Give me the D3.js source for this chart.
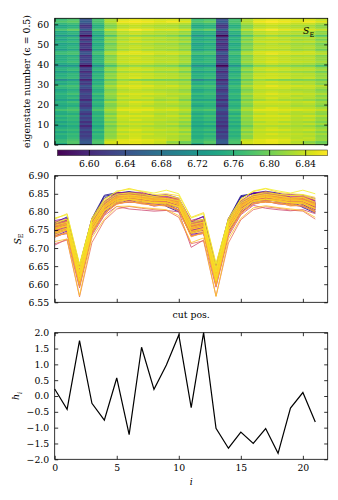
<!DOCTYPE html>
<html>
<head>
<meta charset="utf-8">
<script src="https://cdn.jsdelivr.net/npm/d3@7"></script>
<style>
  body { margin: 0; background: #fff; }
</style>
</head>
<body>
<figure id="chart" style="margin:0"></figure>
<script>
// cut positions along the chain
const cutPositions = [0, 1, 2, 3, 4, 5, 6, 7, 8, 9, 10, 11, 12, 13, 14, 15, 16, 17, 18, 19, 20, 21]

// entanglement entropy S_E, one row per eigenstate (0..62), one value per cut position
const entropy = [
  [6.742,6.781,6.645,6.778,6.843,6.850,6.855,6.846,6.838,6.822,6.805,6.744,6.780,6.643,6.776,6.842,6.851,6.853,6.845,6.835,6.820,6.802],
  [6.770,6.786,6.650,6.782,6.846,6.853,6.852,6.848,6.840,6.815,6.800,6.772,6.788,6.652,6.781,6.845,6.850,6.855,6.848,6.832,6.812,6.797],
  [6.766,6.779,6.642,6.779,6.838,6.852,6.856,6.851,6.846,6.838,6.825,6.770,6.779,6.646,6.777,6.840,6.852,6.857,6.852,6.840,6.835,6.820],
  [6.752,6.768,6.630,6.762,6.818,6.837,6.846,6.838,6.836,6.830,6.822,6.755,6.768,6.628,6.766,6.815,6.840,6.842,6.841,6.832,6.836,6.818],
  [6.748,6.762,6.618,6.760,6.812,6.833,6.842,6.834,6.832,6.828,6.818,6.750,6.758,6.622,6.756,6.810,6.837,6.838,6.835,6.832,6.828,6.812],
  [6.762,6.770,6.628,6.768,6.816,6.843,6.845,6.844,6.835,6.838,6.830,6.760,6.772,6.633,6.764,6.822,6.840,6.848,6.841,6.838,6.835,6.825],
  [6.741,6.756,6.615,6.750,6.807,6.829,6.838,6.830,6.828,6.824,6.812,6.748,6.752,6.611,6.754,6.805,6.833,6.834,6.830,6.828,6.823,6.808],
  [6.765,6.770,6.636,6.771,6.818,6.845,6.850,6.842,6.840,6.836,6.832,6.763,6.774,6.632,6.770,6.824,6.842,6.849,6.846,6.836,6.841,6.827],
  [6.752,6.758,6.622,6.756,6.811,6.836,6.839,6.837,6.829,6.832,6.821,6.754,6.761,6.619,6.759,6.813,6.834,6.841,6.834,6.831,6.831,6.817],
  [6.733,6.747,6.600,6.742,6.799,6.823,6.832,6.824,6.822,6.818,6.805,6.738,6.743,6.604,6.746,6.797,6.827,6.828,6.825,6.822,6.817,6.800],
  [6.758,6.764,6.629,6.762,6.817,6.841,6.842,6.842,6.832,6.836,6.823,6.756,6.768,6.625,6.765,6.815,6.841,6.842,6.842,6.832,6.836,6.822],
  [6.739,6.753,6.607,6.752,6.801,6.831,6.832,6.831,6.826,6.822,6.811,6.744,6.749,6.611,6.748,6.807,6.827,6.836,6.828,6.826,6.821,6.806],
  [6.761,6.767,6.633,6.764,6.820,6.839,6.848,6.840,6.838,6.834,6.830,6.760,6.771,6.629,6.768,6.818,6.843,6.844,6.844,6.834,6.839,6.821],
  [6.749,6.761,6.621,6.757,6.809,6.837,6.838,6.835,6.831,6.829,6.819,6.751,6.762,6.618,6.757,6.811,6.836,6.839,6.837,6.829,6.829,6.814],
  [6.767,6.773,6.640,6.770,6.825,6.847,6.848,6.848,6.838,6.842,6.835,6.766,6.777,6.636,6.774,6.823,6.847,6.848,6.848,6.838,6.843,6.830],
  [6.746,6.752,6.611,6.754,6.803,6.833,6.834,6.834,6.824,6.828,6.813,6.744,6.756,6.615,6.750,6.809,6.829,6.838,6.830,6.828,6.824,6.812],
  [6.751,6.765,6.626,6.759,6.815,6.835,6.844,6.836,6.834,6.830,6.825,6.757,6.761,6.622,6.763,6.813,6.839,6.840,6.840,6.830,6.834,6.816],
  [6.776,6.782,6.650,6.782,6.828,6.853,6.854,6.854,6.844,6.848,6.838,6.776,6.786,6.646,6.782,6.830,6.853,6.854,6.850,6.848,6.846,6.837],
  [6.757,6.771,6.629,6.768,6.816,6.843,6.844,6.844,6.834,6.838,6.826,6.764,6.767,6.633,6.764,6.822,6.839,6.848,6.840,6.838,6.835,6.825],
  [6.743,6.749,6.611,6.748,6.805,6.827,6.836,6.828,6.826,6.822,6.815,6.740,6.753,6.607,6.752,6.803,6.831,6.832,6.832,6.822,6.825,6.806],
  [6.751,6.759,6.619,6.759,6.808,6.834,6.841,6.837,6.828,6.831,6.822,6.753,6.759,6.621,6.760,6.810,6.836,6.839,6.838,6.829,6.832,6.816],
  [6.760,6.774,6.632,6.767,6.822,6.841,6.850,6.846,6.836,6.840,6.828,6.767,6.770,6.636,6.767,6.820,6.845,6.846,6.846,6.836,6.841,6.823],
  [6.734,6.740,6.597,6.743,6.793,6.825,6.826,6.826,6.816,6.820,6.803,6.735,6.740,6.601,6.739,6.799,6.821,6.830,6.822,6.820,6.815,6.802],
  [6.754,6.768,6.625,6.766,6.813,6.841,6.842,6.842,6.832,6.836,6.823,6.760,6.764,6.629,6.762,6.819,6.837,6.846,6.838,6.836,6.832,6.822],
  [6.749,6.755,6.618,6.753,6.810,6.831,6.840,6.832,6.830,6.826,6.820,6.747,6.759,6.614,6.757,6.808,6.835,6.836,6.836,6.826,6.830,6.811],
  [6.763,6.777,6.636,6.774,6.821,6.847,6.848,6.848,6.842,6.838,6.835,6.770,6.773,6.640,6.770,6.827,6.843,6.852,6.844,6.842,6.839,6.830],
  [6.750,6.762,6.620,6.756,6.812,6.834,6.838,6.836,6.832,6.828,6.820,6.750,6.762,6.620,6.756,6.812,6.834,6.840,6.834,6.832,6.828,6.815],
  [6.738,6.752,6.608,6.749,6.804,6.828,6.835,6.829,6.825,6.823,6.814,6.740,6.752,6.608,6.751,6.804,6.830,6.833,6.831,6.823,6.824,6.807],
  [6.760,6.768,6.632,6.765,6.819,6.840,6.847,6.841,6.837,6.835,6.829,6.761,6.770,6.630,6.767,6.819,6.842,6.845,6.843,6.835,6.838,6.822],
  [6.770,6.776,6.643,6.773,6.827,6.849,6.850,6.850,6.840,6.844,6.833,6.773,6.776,6.643,6.773,6.829,6.845,6.854,6.846,6.844,6.841,6.832],
  [6.743,6.755,6.612,6.751,6.806,6.830,6.837,6.831,6.827,6.825,6.816,6.745,6.755,6.612,6.751,6.806,6.832,6.835,6.833,6.825,6.827,6.809],
  [6.754,6.762,6.625,6.760,6.814,6.836,6.843,6.837,6.833,6.831,6.824,6.756,6.762,6.625,6.760,6.816,6.836,6.843,6.837,6.833,6.831,6.819],
  [6.708,6.725,6.590,6.735,6.790,6.815,6.808,6.805,6.802,6.804,6.800,6.702,6.722,6.592,6.733,6.792,6.818,6.810,6.806,6.803,6.806,6.795],
  [6.764,6.771,6.635,6.770,6.821,6.842,6.849,6.843,6.839,6.837,6.831,6.764,6.773,6.633,6.771,6.821,6.844,6.847,6.845,6.837,6.840,6.824],
  [6.749,6.761,6.617,6.758,6.810,6.836,6.840,6.836,6.830,6.830,6.820,6.752,6.760,6.621,6.758,6.812,6.835,6.840,6.836,6.830,6.830,6.815],
  [6.757,6.765,6.628,6.765,6.816,6.840,6.843,6.841,6.835,6.833,6.826,6.759,6.765,6.626,6.763,6.818,6.840,6.843,6.841,6.835,6.833,6.821],
  [6.730,6.743,6.600,6.740,6.795,6.822,6.828,6.823,6.818,6.817,6.804,6.733,6.743,6.600,6.741,6.796,6.823,6.828,6.824,6.818,6.816,6.800],
  [6.758,6.770,6.630,6.767,6.817,6.842,6.845,6.843,6.835,6.837,6.827,6.763,6.768,6.632,6.765,6.821,6.840,6.847,6.841,6.837,6.836,6.824],
  [6.752,6.759,6.621,6.757,6.811,6.835,6.841,6.835,6.831,6.829,6.821,6.752,6.761,6.619,6.759,6.811,6.836,6.839,6.837,6.829,6.831,6.814],
  [6.712,6.722,6.565,6.715,6.776,6.808,6.815,6.810,6.806,6.804,6.785,6.712,6.720,6.567,6.714,6.778,6.806,6.814,6.810,6.805,6.802,6.780],
  [6.745,6.753,6.614,6.753,6.804,6.832,6.835,6.833,6.825,6.827,6.814,6.747,6.753,6.614,6.753,6.808,6.830,6.837,6.831,6.827,6.825,6.811],
  [6.761,6.773,6.635,6.768,6.821,6.842,6.847,6.845,6.837,6.839,6.829,6.766,6.771,6.635,6.768,6.823,6.842,6.849,6.843,6.839,6.838,6.826],
  [6.750,6.760,6.620,6.759,6.810,6.835,6.839,6.836,6.830,6.830,6.821,6.751,6.760,6.620,6.759,6.812,6.835,6.840,6.836,6.830,6.830,6.815],
  [6.756,6.767,6.626,6.764,6.814,6.840,6.844,6.839,6.835,6.834,6.824,6.758,6.767,6.628,6.764,6.816,6.839,6.845,6.839,6.835,6.835,6.819],
  [6.742,6.750,6.610,6.751,6.802,6.830,6.833,6.831,6.823,6.825,6.812,6.743,6.750,6.610,6.751,6.804,6.830,6.833,6.831,6.823,6.824,6.807],
  [6.773,6.779,6.647,6.776,6.830,6.851,6.852,6.852,6.842,6.846,6.836,6.776,6.779,6.647,6.776,6.832,6.847,6.856,6.848,6.846,6.843,6.835],
  [6.766,6.774,6.637,6.773,6.824,6.844,6.851,6.845,6.841,6.839,6.834,6.767,6.776,6.637,6.773,6.824,6.846,6.849,6.847,6.839,6.842,6.827],
  [6.730,6.744,6.593,6.739,6.797,6.821,6.830,6.822,6.820,6.816,6.807,6.731,6.744,6.595,6.739,6.795,6.825,6.826,6.826,6.816,6.819,6.798],
  [6.752,6.764,6.623,6.762,6.812,6.838,6.841,6.839,6.831,6.833,6.822,6.754,6.764,6.623,6.762,6.814,6.838,6.841,6.839,6.831,6.833,6.817],
  [6.745,6.755,6.612,6.751,6.806,6.830,6.837,6.831,6.827,6.825,6.816,6.744,6.755,6.612,6.751,6.806,6.832,6.835,6.833,6.825,6.827,6.809],
  [6.734,6.741,6.598,6.742,6.794,6.824,6.827,6.825,6.817,6.819,6.804,6.732,6.741,6.598,6.742,6.796,6.822,6.829,6.823,6.819,6.816,6.801],
  [6.760,6.768,6.632,6.766,6.818,6.840,6.847,6.841,6.837,6.835,6.829,6.761,6.770,6.630,6.767,6.819,6.842,6.845,6.843,6.835,6.838,6.822],
  [6.736,6.750,6.600,6.745,6.802,6.825,6.834,6.826,6.824,6.820,6.812,6.741,6.746,6.602,6.749,6.800,6.829,6.830,6.830,6.820,6.823,6.803],
  [6.755,6.767,6.627,6.763,6.816,6.838,6.845,6.839,6.835,6.833,6.826,6.757,6.767,6.627,6.763,6.818,6.838,6.845,6.839,6.835,6.833,6.821],
  [6.718,6.725,6.568,6.729,6.780,6.815,6.816,6.812,6.809,6.806,6.790,6.715,6.728,6.566,6.725,6.782,6.811,6.817,6.812,6.808,6.804,6.785],
  [6.754,6.762,6.625,6.760,6.814,6.836,6.843,6.837,6.833,6.831,6.824,6.756,6.762,6.625,6.760,6.816,6.836,6.843,6.837,6.833,6.831,6.819],
  [6.742,6.756,6.613,6.752,6.806,6.831,6.836,6.832,6.826,6.826,6.815,6.746,6.754,6.613,6.752,6.807,6.831,6.836,6.832,6.826,6.826,6.810],
  [6.780,6.795,6.655,6.783,6.836,6.855,6.865,6.856,6.848,6.850,6.845,6.785,6.798,6.657,6.782,6.836,6.856,6.864,6.854,6.850,6.848,6.840],
  [6.751,6.761,6.620,6.758,6.811,6.834,6.840,6.836,6.830,6.831,6.819,6.752,6.759,6.620,6.758,6.812,6.835,6.841,6.835,6.830,6.830,6.816],
  [6.740,6.752,6.608,6.749,6.804,6.828,6.835,6.829,6.825,6.823,6.814,6.741,6.752,6.608,6.749,6.806,6.828,6.835,6.829,6.825,6.822,6.809],
  [6.763,6.771,6.635,6.768,6.819,6.844,6.847,6.843,6.839,6.837,6.831,6.764,6.772,6.634,6.769,6.823,6.842,6.848,6.844,6.838,6.840,6.826],
  [6.783,6.792,6.654,6.780,6.832,6.858,6.862,6.858,6.852,6.860,6.850,6.783,6.795,6.655,6.780,6.834,6.858,6.865,6.858,6.852,6.860,6.850],
  [6.768,6.780,6.645,6.776,6.826,6.848,6.853,6.848,6.843,6.846,6.838,6.770,6.779,6.643,6.774,6.828,6.847,6.853,6.849,6.845,6.847,6.835]
]

// local fields h_i
const fields = [0.22, -0.42, 1.75, -0.23, -0.76, 0.57, -1.22, 1.54, 0.21, 0.98, 1.93, -0.37, 2.0, -1.02, -1.65, -1.14, -1.50, -1.03, -1.81, -0.38, 0.11, -0.82]

// ticks
const xTicks = [0, 5, 10, 15, 20]
const stateTicks = [0, 10, 20, 30, 40, 50, 60]
const colorTicks = [6.60, 6.64, 6.68, 6.72, 6.76, 6.80, 6.84]
const entropyTicks = [6.55, 6.60, 6.65, 6.70, 6.75, 6.80, 6.85, 6.90]
const fieldTicks = [-2.0, -1.5, -1.0, -0.5, 0.0, 0.5, 1.0, 1.5, 2.0]

const width = 338
const height = 500
const left = 54.7
const right = 327.7
const tick = 3.5
const serif = "DejaVu Serif"
const fontSize = 9.3

const svg = d3.select("#chart").append("svg")
  .attr("width", width)
  .attr("height", height)
  .style("font-family", serif)
  .style("font-size", fontSize + "px")

const x = d3.scaleLinear().domain([0, 22]).range([left, right])

// inward ticks on all four sides + black frame
function frame(g, y, yTicks, fmt, xLabels) {
  const top = y.range()[1], bottom = y.range()[0]
  g.append("g").attr("transform", `translate(${left},0)`)
    .call(d3.axisLeft(y).tickValues(yTicks).tickSize(-tick).tickPadding(5.5).tickFormat(fmt))
  g.append("g").attr("transform", `translate(${right},0)`)
    .call(d3.axisRight(y).tickValues(yTicks).tickSize(-tick).tickFormat(""))
  g.append("g").attr("transform", `translate(0,${top})`)
    .call(d3.axisTop(x).tickValues(xTicks).tickSize(-tick).tickFormat(""))
  g.append("g").attr("transform", `translate(0,${bottom})`)
    .call(d3.axisBottom(x).tickValues(xTicks).tickSize(-tick).tickPadding(5)
      .tickFormat(xLabels ? d3.format("d") : ""))
  g.selectAll(".domain").remove()
  g.selectAll("g").attr("font-family", null).attr("font-size", null)
  g.selectAll(".tick line").attr("stroke", "#000").attr("stroke-width", 0.8)
  g.append("rect")
    .attr("x", left).attr("y", top)
    .attr("width", right - left).attr("height", bottom - top)
    .attr("fill", "none").attr("stroke", "#000").attr("stroke-width", 0.8)
}

// ---------- heatmap ----------
const [vmin, vmax] = d3.extent(entropy.flat())
const color = d3.scaleSequential(d3.interpolateViridis).domain([vmin, vmax])
const yHeat = d3.scaleLinear().domain([0, entropy.length]).range([144.7, 18.3])

const heat = svg.append("g")
const cells = entropy.flatMap((row, r) => row.map((v, c) => ({ r, c, v })))
heat.selectAll("rect").data(cells).join("rect")
  .attr("x", d => x(cutPositions[d.c]))
  .attr("y", d => yHeat(d.r + 1))
  .attr("width", d => x(cutPositions[d.c] + 1) - x(cutPositions[d.c]) + 0.4)
  .attr("height", yHeat(0) - yHeat(1) + 0.4)
  .attr("fill", d => color(d.v))

heat.call(frame, yHeat, stateTicks, d3.format("d"), false)

const seHeat = heat.append("text").attr("x", 303).attr("y", 34)
seHeat.append("tspan").attr("font-style", "italic").text("S")
seHeat.append("tspan").attr("dy", 2.5).style("font-size", "6.5px").text("E")

heat.append("text")
  .attr("transform", `translate(29.5,${(18.3 + 144.7) / 2}) rotate(-90)`)
  .attr("text-anchor", "middle")
  .text("eigenstate number (ϵ = 0.5)")

// colorbar
const cbar = svg.append("g")
const cx = d3.scaleLinear().domain([vmin, vmax]).range([57.3, 327.7])
const cTop = 150, cBottom = 155.7
const grad = svg.append("defs").append("linearGradient").attr("id", "viridis")
d3.range(0, 1.0001, 0.05).forEach(t => {
  grad.append("stop").attr("offset", t).attr("stop-color", d3.interpolateViridis(t))
})
cbar.append("rect")
  .attr("x", cx(vmin)).attr("y", cTop)
  .attr("width", cx(vmax) - cx(vmin)).attr("height", cBottom - cTop)
  .attr("fill", "url(#viridis)")
  .attr("stroke", "#444").attr("stroke-width", 0.6)
cbar.append("g").attr("transform", `translate(0,${cBottom})`)
  .call(d3.axisBottom(cx).tickValues(colorTicks).tickSize(-(cBottom - cTop)).tickPadding(4.5)
    .tickFormat(d3.format(".2f")))
  .attr("font-family", null).attr("font-size", null)
cbar.selectAll(".domain").remove()
cbar.selectAll(".tick line").attr("stroke", "#000").attr("stroke-width", 0.8)

// ---------- entropy lines ----------
const mid = svg.append("g")
const yMid = d3.scaleLinear().domain([6.55, 6.90]).range([302.3, 175.7])
const line = d3.line()
  .x((d, i) => x(cutPositions[i]))
  .y(d => yMid(d))

mid.append("clipPath").attr("id", "midclip")
  .append("rect").attr("x", left).attr("y", 175.7).attr("width", right - left).attr("height", 302.3 - 175.7)

mid.append("g").attr("clip-path", "url(#midclip)")
  .selectAll("path").data(entropy).join("path")
  .attr("d", line)
  .attr("fill", "none")
  .attr("stroke", (d, i) => d3.interpolatePlasma(i / (entropy.length - 1)))
  .attr("stroke-width", 0.9)
  .attr("stroke-opacity", 0.9)

mid.call(frame, yMid, entropyTicks, d3.format(".2f"), false)

mid.append("text").attr("x", (left + right) / 2).attr("y", 317.5)
  .attr("text-anchor", "middle").text("cut pos.")

const seMid = mid.append("text")
  .attr("transform", `translate(20.5,${(175.7 + 302.3) / 2}) rotate(-90)`)
  .attr("text-anchor", "middle")
seMid.append("tspan").attr("font-style", "italic").text("S")
seMid.append("tspan").attr("dy", 2.5).style("font-size", "6.5px").text("E")

// ---------- fields ----------
const bot = svg.append("g")
const yBot = d3.scaleLinear().domain([-2, 2]).range([459.3, 332.7])

bot.append("path")
  .datum(fields)
  .attr("d", d3.line().x((d, i) => x(cutPositions[i])).y(d => yBot(d)))
  .attr("fill", "none")
  .attr("stroke", "#000")
  .attr("stroke-width", 1.2)

bot.call(frame, yBot, fieldTicks, d3.format(".1f"), true)

bot.append("text").attr("x", (left + right) / 2).attr("y", 485)
  .attr("text-anchor", "middle").attr("font-style", "italic").text("i")

const hLab = bot.append("text")
  .attr("transform", `translate(19,${(332.7 + 459.3) / 2}) rotate(-90)`)
  .attr("text-anchor", "middle")
hLab.append("tspan").attr("font-style", "italic").text("h")
hLab.append("tspan").attr("dy", 2.5).style("font-size", "6.5px").attr("font-style", "italic").text("i")
</script>
</body>
</html>
